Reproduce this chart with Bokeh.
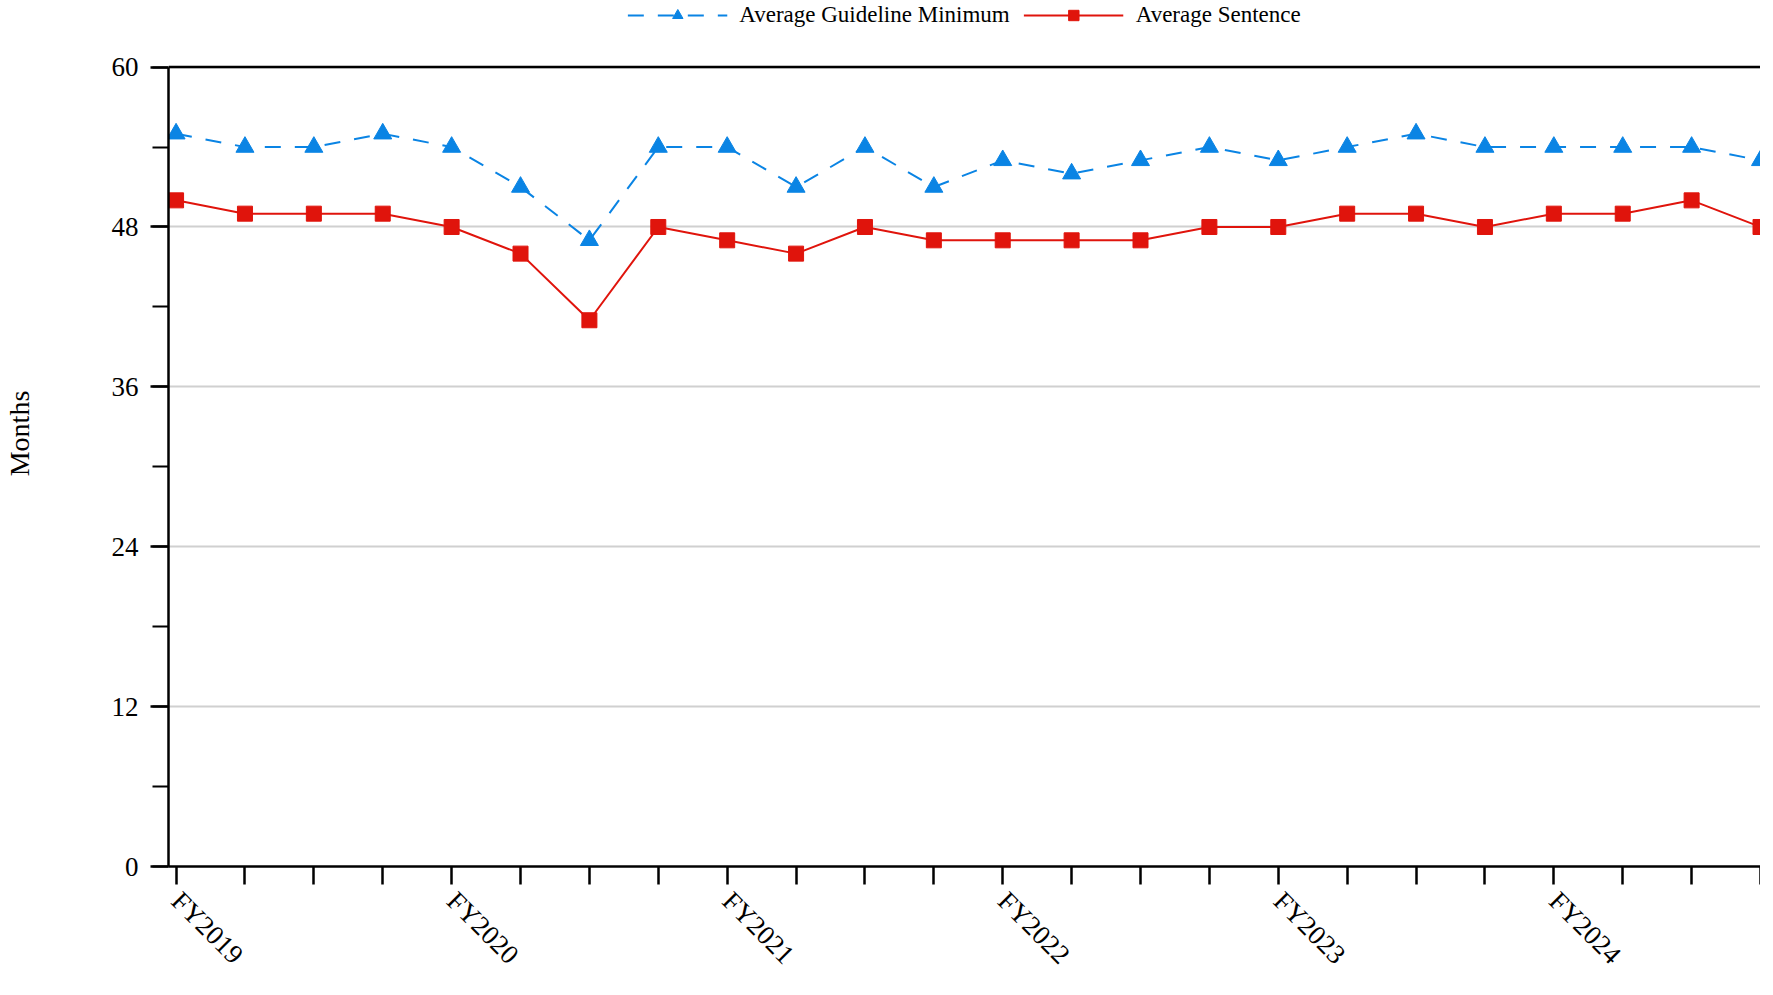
from bokeh.plotting import figure
from bokeh.models import Legend, LegendItem, FixedTicker, Range1d, Span
from bokeh.embed import file_html
from bokeh.resources import INLINE
import math

quarters = list(range(24))
fy_labels = {0: "FY2019", 4: "FY2020", 8: "FY2021", 12: "FY2022", 16: "FY2023", 20: "FY2024"}
guideline_min = [55, 54, 54, 55, 54, 51, 47, 54, 54, 51, 54, 51, 53, 52, 53, 54, 53, 54, 55, 54, 54, 54, 54, 53]
avg_sentence = [50, 49, 49, 49, 48, 46, 41, 48, 47, 46, 48, 47, 47, 47, 47, 48, 48, 49, 49, 48, 49, 49, 50, 48]

FONT = "Liberation Serif"
BLUE = "#0a84e4"
RED = "#e0140c"

p = figure(frame_width=1592, frame_height=866, output_backend="svg", toolbar_location=None,
           x_range=Range1d(-0.11, 23.0), y_range=Range1d(0, 65),
           min_border_left=10, min_border_right=0, min_border_top=0, min_border_bottom=0)

g_line = p.line(quarters, guideline_min, color=BLUE, line_width=2, line_dash="16 14")
g_mark = p.scatter(quarters, guideline_min, marker="triangle", size=18, color=BLUE)
s_line = p.line(quarters, avg_sentence, color=RED, line_width=2)
s_mark = p.scatter(quarters, avg_sentence, marker="square", size=15, color=RED)

p.xaxis.ticker = FixedTicker(ticks=quarters)
p.xaxis.major_label_overrides = {i: fy_labels.get(i, "") for i in quarters}
p.xaxis.major_label_orientation = -math.pi / 4
p.yaxis.ticker = FixedTicker(ticks=[0, 12, 24, 36, 48, 60], minor_ticks=list(range(0, 61, 6)))
p.yaxis.bounds = (0, 60)
p.yaxis.axis_label = "Months"

for ax in (p.xaxis, p.yaxis):
    ax.axis_line_width = 2.5
    ax.axis_line_color = "black"
    ax.major_tick_line_width = 2.5
    ax.major_tick_line_color = "black"
    ax.major_tick_out = 18
    ax.major_tick_in = 0
    ax.major_label_text_font = FONT
    ax.major_label_text_font_size = "27px"
    ax.major_label_text_color = "black"
    ax.axis_label_text_font = FONT
    ax.axis_label_text_font_size = "28px"
    ax.axis_label_text_font_style = "normal"
    ax.axis_label_text_color = "black"
p.yaxis.minor_tick_line_width = 2
p.yaxis.minor_tick_line_color = "black"
p.yaxis.minor_tick_out = 16
p.yaxis.minor_tick_in = 0
p.yaxis.major_label_standoff = 12
p.yaxis.axis_label_standoff = 74
p.xaxis.major_label_standoff = 12
p.xaxis.minor_tick_line_color = None

p.xgrid.grid_line_color = None
p.ygrid.grid_line_color = "#d0d0d0"
p.ygrid.grid_line_width = 2
p.outline_line_color = None
p.add_layout(Span(location=60, dimension="width", line_color="black", line_width=2.5))

legend = Legend(items=[LegendItem(label="Average Guideline Minimum", renderers=[g_line, g_mark]),
                       LegendItem(label="Average Sentence", renderers=[s_line, s_mark])],
                orientation="horizontal", location="top_center",
                label_text_font=FONT, label_text_font_size="23px", label_text_color="black",
                glyph_width=100, glyph_height=26, border_line_color=None, background_fill_alpha=0,
                spacing=14, padding=0, margin=2, label_standoff=12)
p.add_layout(legend, "center")

open("out.html", "w").write(file_html(p, INLINE))
